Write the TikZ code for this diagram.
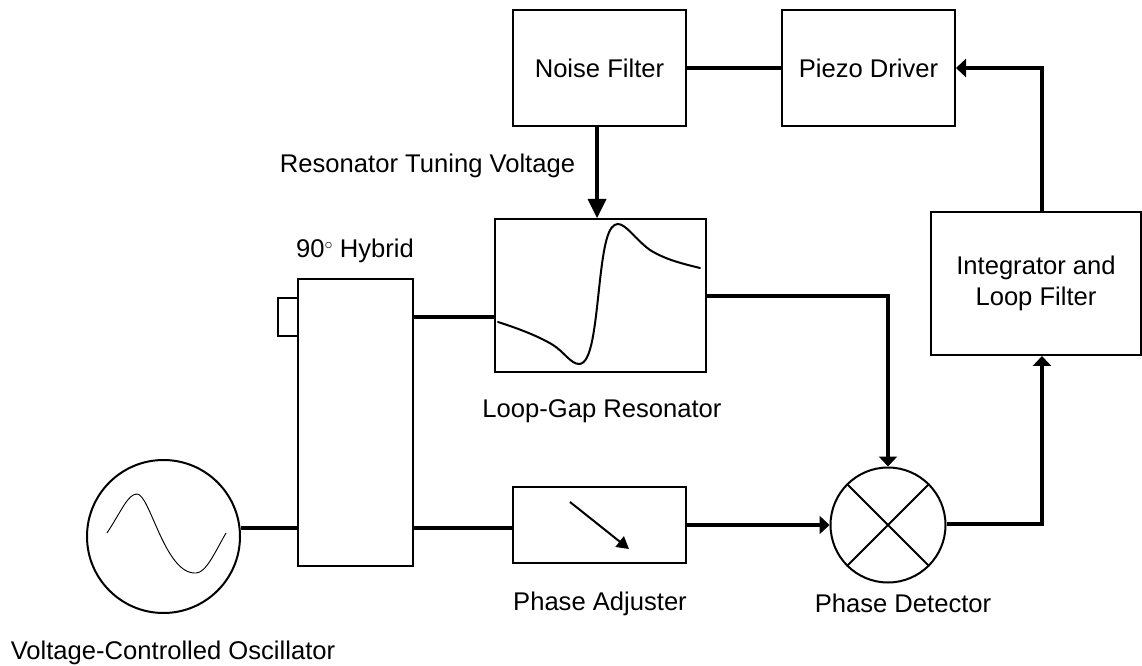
\documentclass[tikz,border=0pt]{standalone}
\usepackage{fontspec}
\setmainfont{Liberation Sans}
\usetikzlibrary{arrows.meta,positioning,calc}
\tikzset{
  px/.style={x=0.75pt,y=-0.75pt},
  blockbox/.style={draw=black,line width=1.5pt,fill=none,inner sep=0pt,align=center,font=\fontsize{19.2}{23.25}\selectfont},
  thick wire/.style={line width=3.4pt,draw=black},
  wirearrow/.style={thick wire,-{Triangle[length=14.25pt,width=14.25pt,line width=0pt]}},
  wirearrowsm/.style={thick wire,-{Triangle[length=7.5pt,width=14pt,line width=0pt]}},
  lbl/.style={font=\fontsize{19.2}{23}\selectfont,inner sep=0pt,anchor=base},
}
\newcommand{\bx}[6]{\node[blockbox,minimum width=#4*0.75pt,minimum height=#5*0.75pt] (#1) at (#2,#3) {#6};}
\begin{document}
\begin{tikzpicture}[px]
\useasboundingbox (0,0) rectangle (1142,666);
\bx{noise}{599.5}{68}{173}{116}{Noise Filter}
\bx{piezo}{868.5}{68}{173}{116}{Piezo Driver}
\bx{integ}{1036}{283.5}{210}{143}{Integrator and\\Loop Filter}
\bx{res}{600.5}{295.5}{211}{153}{}
\bx{hyb}{355.5}{422.5}{115}{287}{}
\bx{stub}{288}{317}{20}{38}{}
\bx{adj}{599.5}{525}{173}{76}{}
\node[draw,line width=1.5pt,circle,minimum size=153*0.75pt,inner sep=0pt] (vco) at (163.5,536.5) {};
\node[draw,line width=1.5pt,circle,minimum size=115*0.75pt,inner sep=0pt] (det) at (888,525) {};
\draw[line width=1.5pt] (det.45) -- (det.225) (det.135) -- (det.315);
% curves
\draw[line width=1.5pt,line cap=round] (498,322) .. controls (520,329) and (540,337) .. (553,345)
  .. controls (563,351) and (571,364) .. (579,364) .. controls (592,364) and (595,325) .. (600,280)
  .. controls (604,245) and (608,224) .. (618,224) .. controls (626,224) and (636,240) .. (650,250)
  .. controls (666,260) and (684,264) .. (700,268);
\draw[line width=0.7pt] (107,533) .. controls (122,510) and (128,494) .. (137,494)
  .. controls (150,494) and (165,575) .. (196,573) .. controls (206,573) and (215,552) .. (226,533);
\coordinate (aS) at (570,502); \coordinate (aE) at (629,549);
\draw[line width=1.5pt,-{Triangle[length=9pt,width=10pt]}] (aS) -- (aE);
% connectors
\draw[thick wire] (vco.east |- 0,528) -- (hyb.west |- 0,528);
\draw[thick wire] (hyb.east |- 0,528) -- (adj.west |- 0,528);
\draw[thick wire] (hyb.east |- 0,317) -- (res.west |- 0,317);
\draw[wirearrowsm] (adj.east |- 0,525) -- (det.west);
\draw[wirearrowsm] (res.east |- 0,296) -| (det.north);
\draw[wirearrowsm] (det.east |- 0,524) -| (integ.south -| 1042,0);
\draw[wirearrowsm] (integ.north -| 1042,0) |- (piezo.east |- 0,68);
\draw[thick wire] (noise.east |- 0,68) -- (piezo.west |- 0,68);
\draw[wirearrow] (noise.south -| 597,0) -- (res.north -| 597,0);
% labels
\node[lbl] (l1) at (427.5,173) {Resonator Tuning Voltage};
\node[lbl] (l2) at (355,258) {90\raisebox{0.6ex}{\fontsize{13}{13}\selectfont$\circ$} Hybrid};
\node[lbl] (l3) at (602,417) {Loop-Gap Resonator};
\node[lbl] (l4) at (600,610) {Phase Adjuster};
\node[lbl] (l5) at (903,612) {Phase Detector};
\node[lbl] (l6) at (173,659) {Voltage-Controlled Oscillator};
\end{tikzpicture}
\end{document}
